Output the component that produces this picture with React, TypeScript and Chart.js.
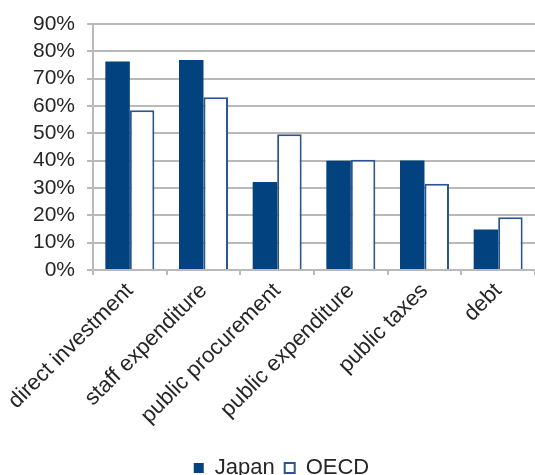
import { useEffect, useRef } from 'react';
import { Chart, registerables } from 'chart.js';

Chart.register(...registerables);

// Share of spending / revenue handled at sub-national level, Japan vs OECD (%)
const categories = [
  'direct investment',
  'staff expenditure',
  'public procurement',
  'public expenditure',
  'public taxes',
  'debt',
];
const japanValues = [76.3, 76.8, 32.2, 40.0, 40.1, 14.8];
const oecdValues = [58.4, 63.2, 49.7, 40.3, 31.6, 19.3];

const yMax = 90;
const yStep = 10;

const NAVY = '#02437f';
const OUTLINE = '#2a5590';
const GRID = '#b9b9b9';
const TEXT = '#262626';
const FONT = "'Liberation Sans', Arial, Helvetica, sans-serif";

export default function App() {
  const canvasRef = useRef<HTMLCanvasElement | null>(null);

  useEffect(() => {
    const canvas = canvasRef.current;
    if (!canvas) return;

    const chart = new Chart(canvas, {
      type: 'bar',
      data: {
        labels: categories,
        datasets: [
          {
            label: 'Japan',
            data: japanValues,
            backgroundColor: NAVY,
            borderColor: NAVY,
            borderWidth: 0,
            categoryPercentage: 0.665,
            barPercentage: 1,
          },
          {
            label: 'OECD',
            data: oecdValues,
            backgroundColor: '#ffffff',
            borderColor: OUTLINE,
            borderWidth: 2,
            categoryPercentage: 0.665,
            barPercentage: 1,
          },
        ],
      },
      options: {
        responsive: false,
        animation: false,
        layout: { padding: { top: 24, left: 28, right: 0, bottom: -14 } },
        font: { family: FONT },
        scales: {
          x: {
            offset: true,
            grid: {
              offset: true,
              drawOnChartArea: false,
              drawTicks: true,
              tickLength: 5,
              color: GRID,
              lineWidth: 2,
            },
            border: { display: true, color: GRID, width: 2 },
            ticks: {
              minRotation: 45,
              maxRotation: 45,
              autoSkip: false,
              padding: 3,
              color: TEXT,
              font: { family: FONT, size: 22 },
            },
            afterFit: (scale: any) => {
              scale.height = 177;
            },
          },
          y: {
            min: 0,
            max: yMax,
            ticks: {
              stepSize: yStep,
              autoSkip: false,
              padding: 12,
              color: TEXT,
              font: { family: FONT, size: 21, lineHeight: 1 },
              callback: (v: any) => `${v}%`,
            },
            grid: {
              color: GRID,
              lineWidth: 2,
              drawTicks: true,
              tickLength: 6,
            },
            border: { display: true, color: GRID, width: 2 },
            afterFit: (scale: any) => {
              scale.width = 65;
            },
          },
        },
        plugins: {
          legend: {
            position: 'bottom',
            labels: {
              boxWidth: 10,
              boxHeight: 10,
              padding: 10,
              color: TEXT,
              font: { family: FONT, size: 22 },
            },
          },
          tooltip: { enabled: false },
        },
      },
    });

    return () => chart.destroy();
  }, []);

  return (
    <div style={{ position: 'absolute', left: 0, top: 0, width: 535, height: 475, background: '#fff' }}>
      <canvas ref={canvasRef} width={535} height={475} />
    </div>
  );
}
